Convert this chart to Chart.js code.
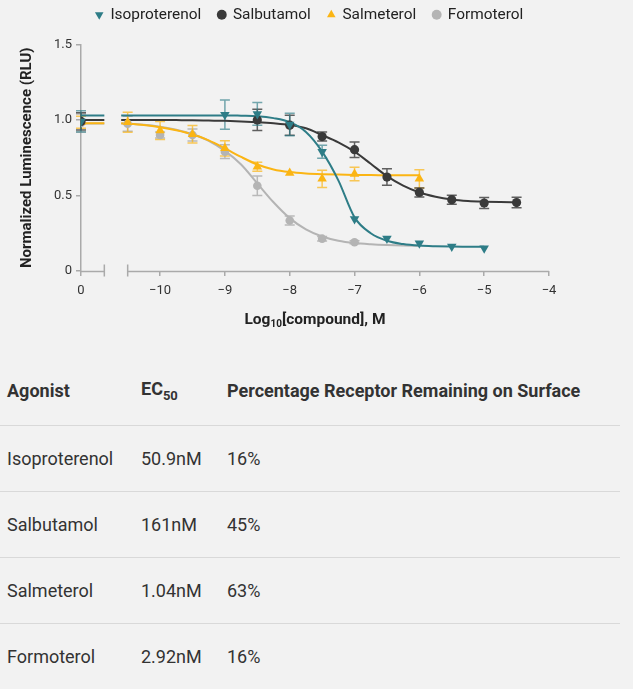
<!DOCTYPE html>
<html>
<head>
<meta charset="utf-8">
<script src="https://cdn.jsdelivr.net/npm/chart.js@4.4.1/dist/chart.umd.min.js"></script>
<style>
  html, body { margin: 0; padding: 0; background: #f2f2f2; }
  body { width: 633px; height: 689px; position: relative; overflow: hidden; font-family: Roboto, sans-serif; }
  #wrap { position: absolute; left: 0; top: 0; width: 633px; height: 340px; }
  table { position: absolute; left: 0; top: 356px; width: 620px; border-collapse: collapse; color: #333; font-size: 18px; }
  th { font-weight: bold; text-align: left; height: 69px; padding: 0 0 0 7px; border-bottom: 1px solid #d9d9d9; }
  td { text-align: left; height: 65px; padding: 0 0 0 7px; border-bottom: 1px solid #d9d9d9; }
  sub { font-size: 13px; }
</style>
</head>
<body>
<div id="wrap"><canvas id="c"></canvas></div>
<table>
  <thead><tr><th style="width:127px">Agonist</th><th style="width:79px">EC<sub>50</sub></th><th>Percentage Receptor Remaining on Surface</th></tr></thead>
  <tbody id="tb"></tbody>
</table>
<script>
// ---------- data ----------
const seriesNames = ['Isoproterenol', 'Salbutamol', 'Salmeterol', 'Formoterol'];
const ec50Labels = ['50.9nM', '161nM', '1.04nM', '2.92nM'];
const remainingLabels = ['16%', '45%', '63%', '16%'];

const xTickValues = [-10, -9, -8, -7, -6, -5, -4];
const yTickValues = [0, 0.5, 1.0, 1.5];

// 'ctrl' = vehicle control plotted at the "0" position
const isoX   = ['ctrl', -9, -8.5, -8, -7.5, -7, -6.5, -6, -5.5, -5];
const isoY   = [0.99, 1.035, 1.04, 0.97, 0.79, 0.345, 0.215, 0.183, 0.162, 0.15];
const isoErr = [0.07, 0.097, 0.075, 0.075, 0.043, 0, 0, 0, 0, 0];

const salbX   = ['ctrl', -8.5, -8, -7.5, -7, -6.5, -6, -5.5, -5, -4.5];
const salbY   = [0.99, 1.0, 0.965, 0.89, 0.803, 0.622, 0.52, 0.472, 0.45, 0.453];
const salbErr = [0.057, 0.07, 0.066, 0.03, 0.051, 0.055, 0.03, 0.03, 0.036, 0.035];

const salmX   = ['ctrl', -10.5, -10, -9.5, -9, -8.5, -8, -7.5, -7, -6];
const salmY   = [0.985, 0.985, 0.93, 0.905, 0.812, 0.69, 0.648, 0.61, 0.642, 0.61];
const salmErr = [0.04, 0.066, 0.06, 0.058, 0.05, 0.03, 0, 0.057, 0.045, 0.06];

const formX   = ['ctrl', -10.5, -10, -9.5, -9, -8.5, -8, -7.5, -7];
const formY   = [0.98, 0.975, 0.9, 0.9, 0.79, 0.564, 0.334, 0.214, 0.19];
const formErr = [0.06, 0.05, 0.02, 0.04, 0.045, 0.065, 0.03, 0.015, 0.01];

// fitted curves
const curveX = [-10.6, -10.25, -10, -9.75, -9.5, -9.25, -9, -8.75, -8.5, -8.25, -8, -7.75, -7.5, -7.25, -7, -6.75, -6.5, -6.25, -6, -5.75, -5.5, -5.25, -5, -4.75, -4.5];
const isoCurve  = [1.03, 1.03, 1.03, 1.03, 1.03, 1.03, 1.03, 1.028, 1.025, 1.012, 0.985, 0.92, 0.79, 0.6, 0.355, 0.25, 0.2, 0.178, 0.168, 0.164, 0.162, 0.161, 0.16];
const salbCurve = [1.0, 1.0, 1.0, 0.999, 0.998, 0.996, 0.994, 0.99, 0.985, 0.978, 0.967, 0.945, 0.9, 0.852, 0.79, 0.71, 0.628, 0.565, 0.52, 0.492, 0.474, 0.464, 0.459, 0.456, 0.454];
const salmCurve = [0.978, 0.966, 0.952, 0.932, 0.905, 0.865, 0.812, 0.755, 0.705, 0.672, 0.655, 0.646, 0.641, 0.638, 0.636, 0.635, 0.634, 0.633, 0.633];
const formCurve = [0.977, 0.968, 0.955, 0.935, 0.905, 0.862, 0.795, 0.705, 0.58, 0.455, 0.35, 0.275, 0.228, 0.2, 0.185, 0.177, 0.172, 0.169, 0.167];

// ---------- axis layout (broken x axis) ----------
const CTRL = -11.22;      // position of the "0" control tick
const CTRL_END = -10.86;  // end of control segment
const MAIN_START = -10.5; // start of the log segment
const X_MAX = -4;

const colors = ['#2e7d87', '#3a3a3a', '#fbb514', '#b4b4b4'];
const errColors = ['rgba(46,125,135,0.65)', 'rgba(58,58,58,0.8)', 'rgba(251,181,20,0.7)', 'rgba(170,170,170,0.8)'];

function pts(xs, ys) { return xs.map((x, i) => ({ x: x === 'ctrl' ? CTRL : x, y: ys[i] })); }
function curvePts(ys) {
  const out = [{ x: CTRL, y: ys[0] }, { x: CTRL_END, y: ys[0] }, { x: -10.7, y: null }];
  ys.forEach((y, i) => out.push({ x: curveX[i], y }));
  return out;
}

// table
const tb = document.getElementById('tb');
seriesNames.forEach((n, i) => {
  const tr = document.createElement('tr');
  [n, ec50Labels[i], remainingLabels[i]].forEach(t => { const td = document.createElement('td'); td.textContent = t; tr.appendChild(td); });
  tb.appendChild(tr);
});

const markerSets = [
  { label: seriesNames[0], data: pts(isoX, isoY), err: isoErr, pointStyle: 'triangle', pointRotation: 180, pointRadius: 5.5 },
  { label: seriesNames[1], data: pts(salbX, salbY), err: salbErr, pointStyle: 'circle', pointRadius: 4.6 },
  { label: seriesNames[2], data: pts(salmX, salmY), err: salmErr, pointStyle: 'triangle', pointRotation: 0, pointRadius: 5.5 },
  { label: seriesNames[3], data: pts(formX, formY), err: formErr, pointStyle: 'circle', pointRadius: 4.3 }
].map((d, i) => Object.assign(d, {
  xAxisID: 'x', yAxisID: 'y',
  showLine: false, backgroundColor: colors[i], borderColor: colors[i], borderWidth: 0,
  pointBackgroundColor: colors[i], pointBorderColor: colors[i], pointBorderWidth: 0, pointHoverRadius: d.pointRadius
}));

const curveSets = [isoCurve, salbCurve, salmCurve, formCurve].map((c, i) => ({
  label: seriesNames[i] + ' fit', data: curvePts(c), xAxisID: 'x', yAxisID: 'y',
  showLine: true, borderColor: colors[i], backgroundColor: colors[i], borderWidth: 2,
  pointRadius: 0, pointHoverRadius: 0, fill: false, spanGaps: false, cubicInterpolationMode: 'monotone'
}));

const errorBarPlugin = {
  id: 'errorBars',
  beforeDatasetsDraw(chart) {
    const ctx = chart.ctx, xs = chart.scales.x, ys = chart.scales.y;
    ctx.save();
    ctx.lineWidth = 1.5;
    for (let i = 3; i >= 0; i--) {
      const ds = chart.data.datasets[i];
      ctx.strokeStyle = errColors[i];
      ds.data.forEach((p, j) => {
        const e = ds.err[j];
        if (!e) return;
        const px = xs.getPixelForValue(p.x);
        const y1 = ys.getPixelForValue(p.y + e), y2 = ys.getPixelForValue(p.y - e);
        ctx.beginPath();
        ctx.moveTo(px, y1); ctx.lineTo(px, y2);
        ctx.moveTo(px - 5, y1); ctx.lineTo(px + 5, y1);
        ctx.moveTo(px - 5, y2); ctx.lineTo(px + 5, y2);
        ctx.stroke();
      });
    }
    ctx.restore();
  }
};

const brokenAxisPlugin = {
  id: 'brokenAxis',
  beforeDatasetsDraw(chart) {
    const ctx = chart.ctx, xs = chart.scales.x;
    const y = chart.chartArea.bottom + 0.5;
    const a = xs.getPixelForValue(CTRL), b = xs.getPixelForValue(CTRL_END);
    const c = xs.getPixelForValue(MAIN_START), d = xs.getPixelForValue(X_MAX);
    ctx.save();
    ctx.strokeStyle = '#aaaaaa';
    ctx.lineWidth = 1.5;
    ctx.beginPath();
    ctx.moveTo(a, y); ctx.lineTo(b, y);
    ctx.moveTo(c, y); ctx.lineTo(d, y);
    ctx.moveTo(b, y - 7); ctx.lineTo(b, y + 5);
    ctx.moveTo(c, y - 7); ctx.lineTo(c, y + 5);
    ctx.stroke();
    ctx.restore();
  },
  afterDraw(chart) {
    // x axis title with subscript
    const ctx = chart.ctx, ca = chart.chartArea;
    const cx = (ca.left + ca.right) / 2, by = ca.bottom + 53;
    ctx.save();
    ctx.fillStyle = '#222';
    ctx.textBaseline = 'alphabetic';
    const big = 'bold 15.5px Roboto', small = 'bold 10px Roboto';
    const p1 = 'Log', p2 = '10', p3 = '[compound], M';
    ctx.font = big; const w1 = ctx.measureText(p1).width, w3 = ctx.measureText(p3).width;
    ctx.font = small; const w2 = ctx.measureText(p2).width;
    let x = cx - (w1 + w2 + w3) / 2;
    ctx.textAlign = 'left';
    ctx.font = big; ctx.fillText(p1, x, by); x += w1;
    ctx.font = small; ctx.fillText(p2, x, by + 3); x += w2;
    ctx.font = big; ctx.fillText(p3, x, by);
    ctx.restore();
  }
};

Chart.defaults.font.family = 'Roboto';
Chart.defaults.color = '#333';

const hiddenAxis = (pos, size) => ({
  type: 'linear', position: pos, display: true,
  grid: { display: false }, border: { display: false }, ticks: { display: false },
  afterFit: (s) => { if (pos === 'right') s.width = size; else s.height = size; }
});

new Chart(document.getElementById('c'), {
  type: 'scatter',
  data: { datasets: markerSets.concat(curveSets) },
  options: {
    responsive: true, maintainAspectRatio: false, animation: false,
    layout: { padding: { left: 0, right: 14, top: -10, bottom: 0 } },
    plugins: {
      tooltip: { enabled: false },
      legend: {
        display: true, position: 'top',
        labels: {
          usePointStyle: true, boxWidth: 7, boxHeight: 7, padding: 17, color: '#222',
          font: { size: 15.4 },
          filter: (item) => item.datasetIndex < 4
        }
      }
    },
    scales: {
      x: {
        type: 'linear', min: CTRL, max: X_MAX,
        afterBuildTicks: (s) => { s.ticks = [{ value: CTRL }].concat(xTickValues.map(v => ({ value: v }))); },
        afterFit: (s) => { s.height = 69; },
        border: { display: false },
        grid: { drawOnChartArea: false, drawTicks: true, tickLength: 5, color: '#aaaaaa', lineWidth: 1.5 },
        ticks: {
          padding: 7, font: { size: 13 }, color: '#333', maxRotation: 0, autoSkip: false,
          callback: (v) => v === CTRL ? '0' : (v < 0 ? '\u2212' + Math.abs(v) : String(v))
        }
      },
      y: {
        min: 0, max: 1.5,
        afterBuildTicks: (s) => { s.ticks = yTickValues.map(v => ({ value: v })); },
        afterFit: (s) => { s.width = 81; },
        border: { display: true, color: '#aaaaaa', width: 1.5 },
        grid: { drawOnChartArea: false, drawTicks: true, tickLength: 5, color: '#aaaaaa', lineWidth: 1.5 },
        ticks: {
          padding: 4, font: { size: 13 }, color: '#333',
          callback: (v) => v === 0 ? '0' : v.toFixed(1)
        },
        title: { display: true, text: 'Normalized Luminescence (RLU)', color: '#222', font: { size: 15, weight: 'bold' }, padding: { top: 18, bottom: 0 } }
      },
      xTop: hiddenAxis('top', 12),
      yRight: hiddenAxis('right', 70)
    }
  },
  plugins: [errorBarPlugin, brokenAxisPlugin]
});
</script>
</body>
</html>
